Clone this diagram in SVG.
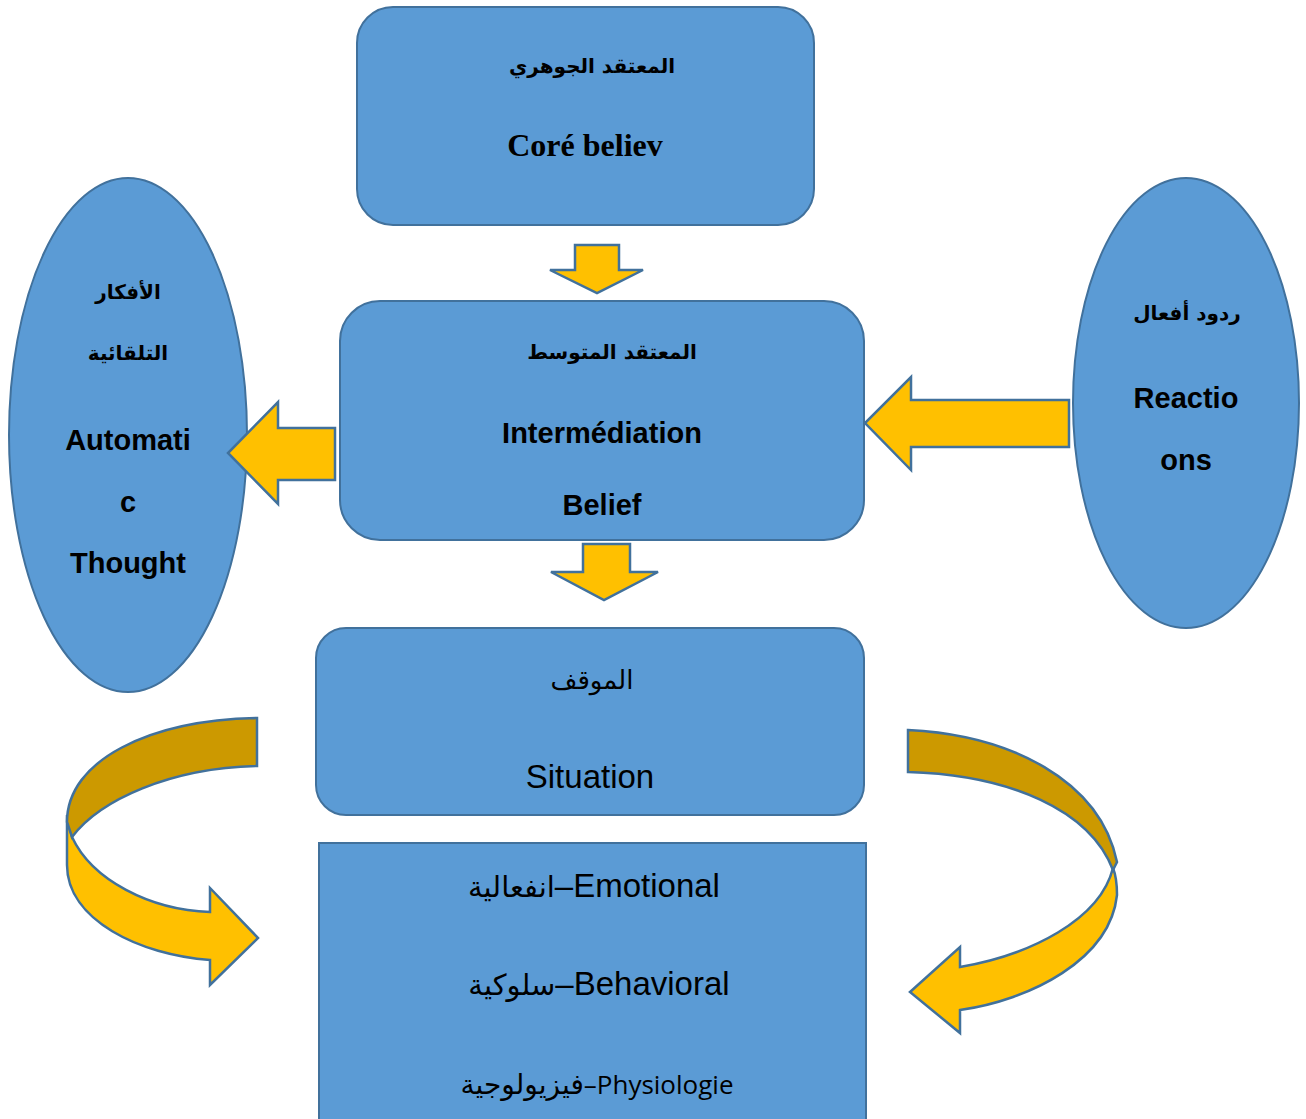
<svg xmlns="http://www.w3.org/2000/svg" width="1306" height="1119" viewBox="0 0 1306 1119">
<style>
.box{fill:#5B9BD5;stroke:#41719C;stroke-width:2}
.arr{fill:#FFC000;stroke:#41719C;stroke-width:2.5;stroke-linejoin:miter}
.dark{fill:#CC9900;stroke:#41719C;stroke-width:2.5}
text{font-family:"Liberation Sans","DejaVu Sans",sans-serif;fill:#000;text-anchor:middle}
.b{font-weight:bold;font-size:29px}
.ar{font-family:"DejaVu Sans",sans-serif;font-weight:bold;font-size:20px}
</style>
<rect width="1306" height="1119" fill="#fff"/>
<g id="core">
<rect class="box" x="357" y="7" width="457" height="218" rx="36"/>
<text class="ar" x="592" y="73">المعتقد الجوهري</text>
<text x="585" y="156" style="font-family:'Liberation Serif',serif;font-weight:bold;font-size:32px">Coré believ</text>
</g>
<g id="intermediate">
<rect class="box" x="340" y="301" width="524" height="239" rx="40"/>
<text class="ar" x="612" y="359">المعتقد المتوسط</text>
<text class="b" x="602" y="443">Intermédiation</text>
<text class="b" x="602" y="515">Belief</text>
</g>
<g id="automatic">
<ellipse class="box" cx="128" cy="435" rx="119" ry="257"/>
<text class="ar" x="128" y="299">الأفكار</text>
<text class="ar" x="128" y="360">التلقائية</text>
<text class="b" x="128" y="450">Automati</text>
<text class="b" x="128" y="512">c</text>
<text class="b" x="128" y="573">Thought</text>
</g>
<g id="reactions">
<ellipse class="box" cx="1186" cy="403" rx="113" ry="225"/>
<text class="ar" x="1187" y="320">ردود أفعال</text>
<text class="b" x="1186" y="408">Reactio</text>
<text class="b" x="1186" y="470">ons</text>
</g>
<g id="situation">
<rect class="box" x="316" y="628" width="548" height="187" rx="30"/>
<text x="592" y="689" style="font-family:'DejaVu Sans',sans-serif;font-size:26px">الموقف</text>
<text x="590" y="788" font-size="33">Situation</text>
</g>
<g id="responses">
<rect class="box" x="319" y="843" width="547" height="285"/>
<text x="594" y="897" font-size="33"><tspan font-size="29">انفعالية</tspan>–Emotional</text>
<text x="599" y="995" font-size="33"><tspan font-size="29">سلوكية</tspan>–Behavioral</text>
<text x="597" y="1094" font-size="26" style="font-family:'Open Sans','DejaVu Sans',sans-serif"><tspan font-size="28">فيزيولوجية</tspan>–Physiologie</text>
</g>
<g id="connectors">
<path class="arr" d="M575,245 L619,245 L619,270 L643,270 L597,293 L550,270 L575,270 Z"/>
<path class="arr" d="M583,544 L630,544 L630,572 L658,572 L604,600 L551,572 L583,572 Z"/>
<path class="arr" d="M335,428 L335,480 L278,480 L278,504 L228,453 L278,402 L278,428 Z"/>
<path class="arr" d="M1069,400 L1069,447 L911,447 L911,470 L865,423 L911,377 L911,400 Z"/>
<path class="arr" d="M67,815 L67,865 C67,920 140,955 210,960 L210,985 L258,938 L210,888 L210,912 C150,910 92,880 72,837 Z"/>
<path class="dark" d="M257,718 L257,766 C170,768 100,800 72,837 L67,822 C67,760 150,720 257,718 Z"/>
<path class="arr" d="M1113,868 C1117,878 1117,888 1117,895 C1110,960 1030,1000 960,1010 L960,1033 L910,992 L960,947 L960,967 C1030,955 1100,920 1113,868 Z"/>
<path class="dark" d="M908,730 C1010,735 1100,780 1117,862 L1113,870 C1090,810 1010,775 908,772 Z"/>
</g>
</svg>
